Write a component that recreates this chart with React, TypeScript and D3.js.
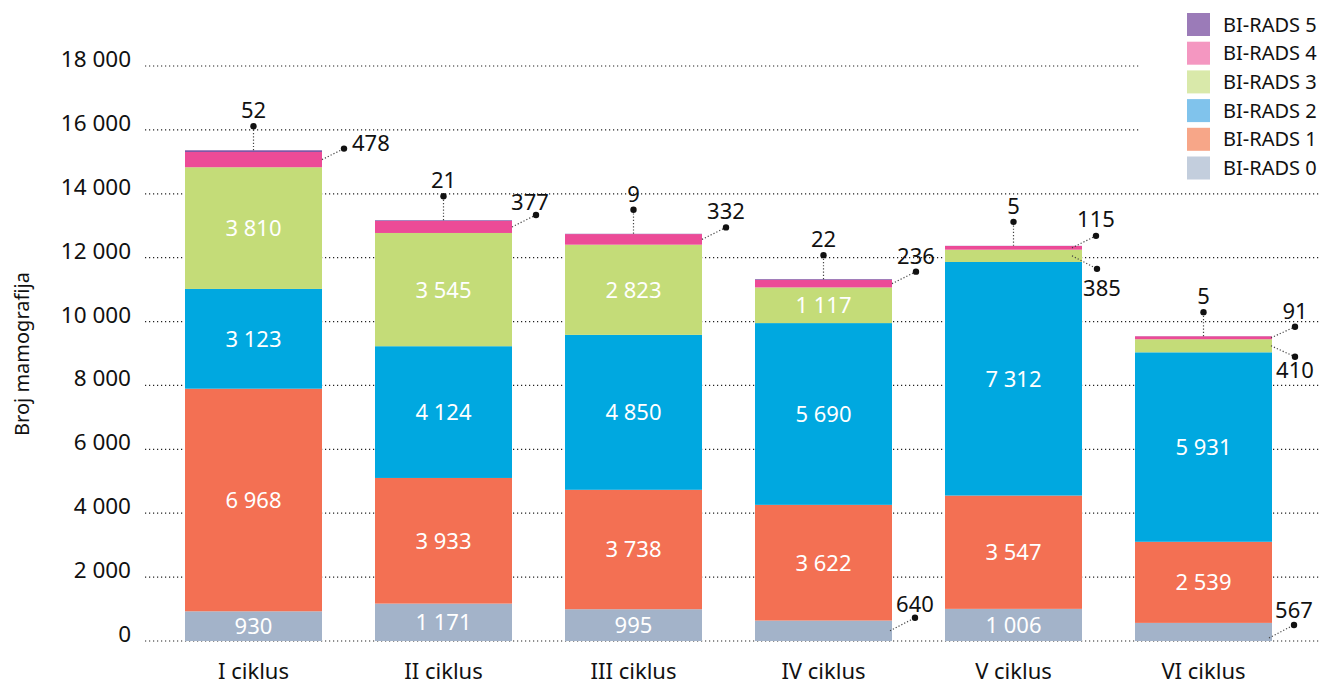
import React from "react";
import * as d3 from "d3";

const categories = ["I ciklus", "II ciklus", "III ciklus", "IV ciklus", "V ciklus", "VI ciklus"];
const birads0 = [930, 1171, 995, 640, 1006, 567];
const birads1 = [6968, 3933, 3738, 3622, 3547, 2539];
const birads2 = [3123, 4124, 4850, 5690, 7312, 5931];
const birads3 = [3810, 3545, 2823, 1117, 385, 410];
const birads4 = [478, 377, 332, 236, 115, 91];
const birads5 = [52, 21, 9, 22, 5, 5];
const seriesNames = ["BI-RADS 0", "BI-RADS 1", "BI-RADS 2", "BI-RADS 3", "BI-RADS 4", "BI-RADS 5"];
const yTicks = [0, 2000, 4000, 6000, 8000, 10000, 12000, 14000, 16000, 18000];

const series = [birads0, birads1, birads2, birads3, birads4, birads5];
const barColors = ["#a3b3c9", "#f37053", "#00a8e0", "#c4dc78", "#ec4b97", "#7b52a3"];
const legendColors = ["#c3cedd", "#f7a688", "#80c3ec", "#d9e9aa", "#f497c1", "#9b7bb8"];

const FONT = "'Noto Sans', sans-serif";
const W = 1321;
const H = 684;

const locale = d3.formatLocale({ decimal: ",", thousands: "\u00a0", grouping: [3], currency: ["", ""] });
const fmt = locale.format(",d");

// callout layout (styling, not data): key = seriesIdx-catIdx
type Callout = { sx: number; sy: number; dx: number; dy: number; tx: number; ty: number; anchor: string };
const defaultCallout: Callout = { sx: 0, sy: 0, dx: 24, dy: -12, tx: 0, ty: -8, anchor: "middle" };
const calloutOverrides: Record<string, Partial<Callout>> = {
  "4-0": { dx: 22, dy: -11, tx: 8, ty: 2, anchor: "start" },
  "4-1": { tx: -6, ty: -5 },
  "4-4": { sx: -10, ty: -9 },
  "3-4": { sx: -10, dx: 25, dy: 13, tx: 5, ty: 27 },
  "4-5": { sx: -1, dy: -11 },
  "3-5": { sx: -1, dx: 24, dy: 11, ty: 21 },
  "0-3": { sx: -2, dx: 25, dy: -13, ty: -6 },
  "0-5": { sx: -3, sy: 6, dx: 25, dy: -13, ty: -7 },
};

export default function App() {
  const y = d3.scaleLinear().domain([0, 18000]).range([641, 66]);
  const x = d3
    .scaleBand<string>()
    .domain(categories)
    .range([158.5, 1298.5])
    .paddingInner(0.279)
    .paddingOuter(0.1395);

  const stackData = categories.map((c, i) => {
    const o: any = { cat: c };
    series.forEach((s, k) => (o["s" + k] = s[i]));
    return o;
  });
  const stack = d3.stack<any>().keys(series.map((_, k) => "s" + k));
  const stacked = stack(stackData);

  const bw = x.bandwidth();
  const dotted = "1.2 2.8";

  const els: React.ReactNode[] = [];
  stacked.forEach((layer, k) => {
    layer.forEach((d, i) => {
      const x0 = x(categories[i])!;
      const y0 = y(d[1]);
      const y1 = y(d[0]);
      els.push(
        <rect key={`r${k}-${i}`} x={x0} y={y0} width={bw} height={Math.max(0, y1 - y0)} fill={barColors[k]} />
      );
    });
  });

  const labels: React.ReactNode[] = [];
  stacked.forEach((layer, k) => {
    layer.forEach((d, i) => {
      const v = series[k][i];
      const x0 = x(categories[i])!;
      const cx = x0 + bw / 2;
      const yTop = y(d[1]);
      const yBot = y(d[0]);
      const cy = (yTop + yBot) / 2;
      if (k === 5) {
        const dotY = yTop - 24;
        labels.push(
          <g key={`l${k}-${i}`}>
            <line x1={cx} x2={cx} y1={yTop} y2={dotY} stroke="#444" strokeWidth={1.2} strokeDasharray="1.2 2" />
            <circle cx={cx} cy={dotY} r={3.2} fill="#111" />
            <text x={cx} y={dotY - 8} textAnchor="middle" fontSize={22} fill="#111" fontFamily={FONT}>
              {fmt(v)}
            </text>
          </g>
        );
      } else if (yBot - yTop >= 28 && k !== 4) {
        labels.push(
          <text
            key={`l${k}-${i}`}
            x={cx}
            y={cy}
            dy="0.36em"
            textAnchor="middle"
            fontSize={22}
            fill="#fff"
            fontFamily={FONT}
          >
            {fmt(v)}
          </text>
        );
      } else {
        const c: Callout = { ...defaultCallout, ...(calloutOverrides[`${k}-${i}`] || {}) };
        const sx = x0 + bw + c.sx;
        const sy = cy + c.sy;
        const dxp = sx + c.dx;
        const dyp = sy + c.dy;
        labels.push(
          <g key={`l${k}-${i}`}>
            <line x1={sx} y1={sy} x2={dxp} y2={dyp} stroke="#444" strokeWidth={1.2} strokeDasharray="1.2 2" />
            <circle cx={dxp} cy={dyp} r={3.2} fill="#111" />
            <text
              x={dxp + c.tx}
              y={dyp + c.ty}
              textAnchor={c.anchor as any}
              fontSize={22}
              fill="#111"
              fontFamily={FONT}
            >
              {fmt(v)}
            </text>
          </g>
        );
      }
    });
  });

  const legendOrder = [5, 4, 3, 2, 1, 0];

  return (
    <svg width={W} height={H} style={{ display: "block", position: "absolute", left: 0, top: 0 }}>
      <rect x={0} y={0} width={W} height={H} fill="#fff" />
      {yTicks.map((t) => (
        <g key={t}>
          <line x1={145} x2={W} y1={y(t)} y2={y(t)} stroke="#222" strokeWidth={1.2} strokeDasharray={dotted} />
          <text x={131} y={y(t) + 1} textAnchor="end" fontSize={22.5} fill="#111" fontFamily={FONT}>
            {fmt(t)}
          </text>
        </g>
      ))}
      {els}
      {labels}
      {categories.map((c) => (
        <text
          key={c}
          x={x(c)! + bw / 2}
          y={679}
          textAnchor="middle"
          fontSize={22}
          fill="#111"
          fontFamily={FONT}
        >
          {c}
        </text>
      ))}
      <text
        transform="translate(29,354) rotate(-90)"
        textAnchor="middle"
        fontSize={20}
        fill="#111"
        fontFamily={FONT}
      >
        Broj mamografija
      </text>
      <rect x={1140} y={0} width={W - 1140} height={182} fill="#fff" />
      {legendOrder.map((k, j) => {
        const ty = 13 + j * 28.7;
        return (
          <g key={k}>
            <rect x={1187} y={ty} width={23} height={23} fill={legendColors[k]} />
            <text x={1223} y={ty + 18.5} fontSize={20} fill="#111" fontFamily={FONT}>
              {seriesNames[k]}
            </text>
          </g>
        );
      })}
    </svg>
  );
}
